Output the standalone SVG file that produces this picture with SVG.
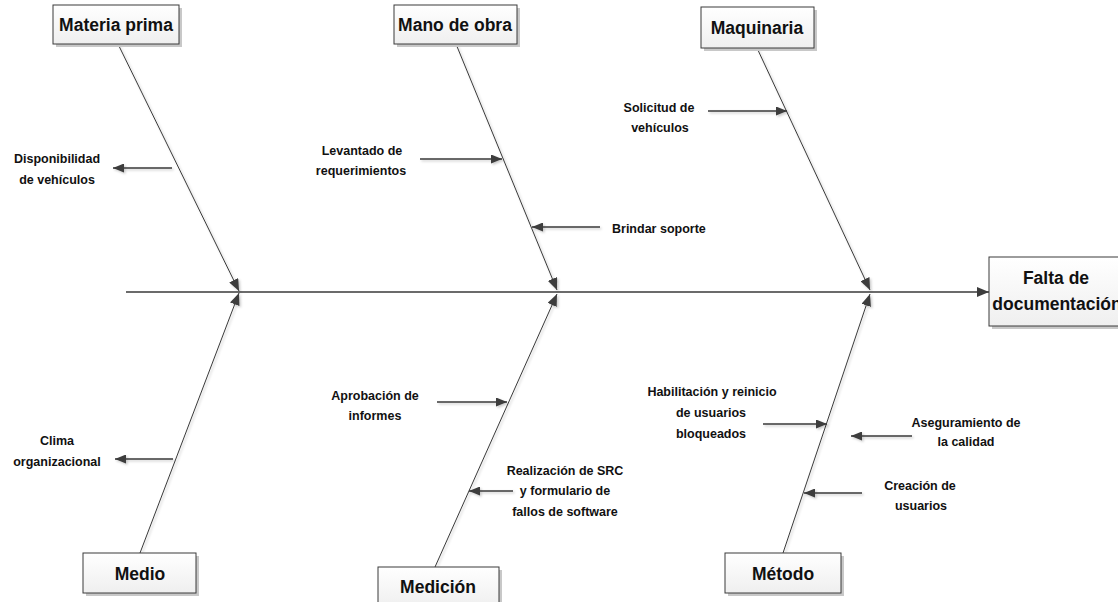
<svg xmlns="http://www.w3.org/2000/svg" width="1118" height="602" viewBox="0 0 1118 602">
  <defs>
    <linearGradient id="boxFill" x1="0" y1="0" x2="0" y2="1">
      <stop offset="0" stop-color="#ffffff"/>
      <stop offset="1" stop-color="#efefef"/>
    </linearGradient>
    <filter id="soft" filterUnits="userSpaceOnUse" x="0" y="0" width="1118" height="602">
      <feDropShadow dx="1.5" dy="1.5" stdDeviation="0.8" flood-color="#000" flood-opacity="0.22"/>
    </filter>
    <marker id="head" viewBox="0 0 11 9" refX="11" refY="4.5" markerWidth="11" markerHeight="9" markerUnits="userSpaceOnUse" orient="auto">
      <path d="M0,0 L11,4.5 L0,9 z" fill="#3c3c3c"/>
    </marker>
    <marker id="headBig" viewBox="0 0 12 10" refX="12" refY="5" markerWidth="12" markerHeight="10" markerUnits="userSpaceOnUse" orient="auto">
      <path d="M0,0 L12,5 L0,10 z" fill="#3c3c3c"/>
    </marker>
  </defs>
  <style>
    .box { fill: url(#boxFill); stroke: #3a3a3a; stroke-width: 1; }
    .shadow { fill: #c8c8c8; }
    .title { font-family: "Liberation Sans", Arial, sans-serif; font-weight: bold; font-size: 17.5px; fill: #111; text-anchor: middle; }
    .cause { font-family: "Liberation Sans", Arial, sans-serif; font-weight: bold; font-size: 12.5px; fill: #111; text-anchor: middle; }
    .start { text-anchor: start; }
    .bone { stroke: #3a3a3a; stroke-width: 1; fill: none; marker-end: url(#headBig); filter: url(#soft); }
    .spine { stroke: #3a3a3a; stroke-width: 1.5; fill: none; marker-end: url(#headBig); }
    .sub { stroke: #3a3a3a; stroke-width: 1.5; fill: none; marker-end: url(#head); filter: url(#soft); }
  </style>

  <!-- connectors: spine, main bones and cause arrows -->
  <g id="connectors">
    <line class="spine" x1="126" y1="292" x2="989" y2="292"/>

    <line class="bone" x1="118" y1="44" x2="239" y2="291"/>
    <line class="bone" x1="456" y1="44" x2="557" y2="290"/>
    <line class="bone" x1="757" y1="48" x2="870" y2="290"/>
    <line class="bone" x1="140" y1="553" x2="239" y2="293"/>
    <line class="bone" x1="435" y1="567" x2="557" y2="294"/>
    <line class="bone" x1="783" y1="553" x2="870" y2="294"/>

    <line class="sub" x1="172" y1="168" x2="113" y2="168"/>
    <line class="sub" x1="420" y1="159" x2="502" y2="159"/>
    <line class="sub" x1="600" y1="227" x2="532" y2="227"/>
    <line class="sub" x1="708" y1="111" x2="787" y2="111"/>
    <line class="sub" x1="173" y1="459" x2="115" y2="459"/>
    <line class="sub" x1="437" y1="402" x2="507" y2="402"/>
    <line class="sub" x1="513" y1="491" x2="469" y2="491"/>
    <line class="sub" x1="763" y1="424" x2="827" y2="424"/>
    <line class="sub" x1="912" y1="436" x2="851" y2="436"/>
    <line class="sub" x1="862" y1="493" x2="804" y2="493"/>
  </g>

  <!-- effect -->
  <g id="falta-documentacion">
    <rect class="shadow" x="992" y="260" width="140" height="69"/>
    <rect class="box" x="989" y="257" width="140" height="69"/>
    <text class="title" x="1056" y="284">Falta de</text>
    <text class="title" x="1057" y="310">documentación</text>
  </g>

  <!-- category boxes -->
  <g id="materia-prima">
    <rect class="shadow" x="56" y="8" width="126" height="39"/>
    <rect class="box" x="53" y="5" width="126" height="39"/>
    <text class="title" x="116" y="31">Materia prima</text>
  </g>
  <g id="mano-de-obra">
    <rect class="shadow" x="397" y="8" width="123" height="39"/>
    <rect class="box" x="394" y="5" width="123" height="39"/>
    <text class="title" x="455" y="31">Mano de obra</text>
  </g>
  <g id="maquinaria">
    <rect class="shadow" x="704" y="10" width="113" height="41"/>
    <rect class="box" x="701" y="7" width="113" height="41"/>
    <text class="title" x="757" y="34">Maquinaria</text>
  </g>
  <g id="medio">
    <rect class="shadow" x="86" y="556" width="113" height="40"/>
    <rect class="box" x="83" y="553" width="113" height="40"/>
    <text class="title" x="140" y="580">Medio</text>
  </g>
  <g id="medicion">
    <rect class="shadow" x="381" y="570" width="121" height="40"/>
    <rect class="box" x="378" y="567" width="121" height="40"/>
    <text class="title" x="438" y="593">Medición</text>
  </g>
  <g id="metodo">
    <rect class="shadow" x="728" y="556" width="116" height="40"/>
    <rect class="box" x="725" y="553" width="116" height="40"/>
    <text class="title" x="783" y="580">Método</text>
  </g>

  <!-- causes -->
  <g id="disponibilidad">
    <text class="cause" x="57" y="163">Disponibilidad</text>
    <text class="cause" x="57" y="184">de vehículos</text>
  </g>
  <g id="levantado">
    <text class="cause" x="362" y="155">Levantado de</text>
    <text class="cause" x="361" y="175">requerimientos</text>
  </g>
  <g id="brindar-soporte">
    <text class="cause start" x="612" y="233">Brindar soporte</text>
  </g>
  <g id="solicitud">
    <text class="cause" x="659" y="112">Solicitud de</text>
    <text class="cause" x="660" y="132">vehículos</text>
  </g>
  <g id="clima">
    <text class="cause" x="57" y="445">Clima</text>
    <text class="cause" x="57" y="466">organizacional</text>
  </g>
  <g id="aprobacion">
    <text class="cause" x="375" y="400">Aprobación de</text>
    <text class="cause" x="375" y="420">informes</text>
  </g>
  <g id="realizacion">
    <text class="cause" x="565" y="475">Realización de SRC</text>
    <text class="cause" x="565" y="495">y formulario de</text>
    <text class="cause" x="565" y="516">fallos de software</text>
  </g>
  <g id="habilitacion">
    <text class="cause" x="712" y="396">Habilitación y reinicio</text>
    <text class="cause" x="711" y="417">de usuarios</text>
    <text class="cause" x="711" y="438">bloqueados</text>
  </g>
  <g id="aseguramiento">
    <text class="cause" x="966" y="427">Aseguramiento de</text>
    <text class="cause" x="966" y="446">la calidad</text>
  </g>
  <g id="creacion">
    <text class="cause" x="920" y="490">Creación de</text>
    <text class="cause" x="921" y="510">usuarios</text>
  </g>
</svg>
